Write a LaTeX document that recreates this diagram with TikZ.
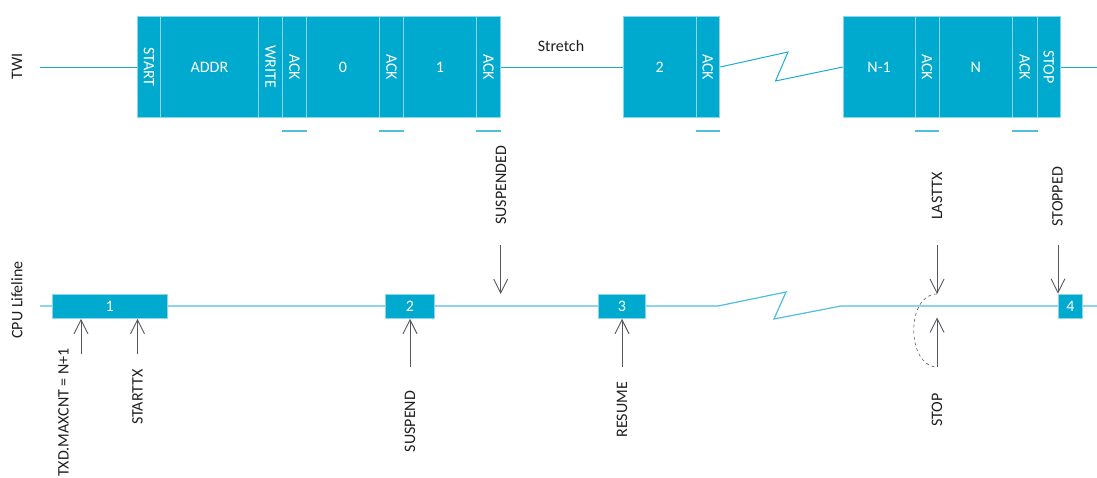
\documentclass[tikz,border=0pt]{standalone}
\usepackage{fontspec}
\setmainfont{Carlito}
\usetikzlibrary{arrows.meta}
\definecolor{twiblue}{RGB}{0,169,206}
\definecolor{twiedge}{RGB}{140,214,234}
\definecolor{lifeblue}{RGB}{80,190,220}
\definecolor{zigblue}{RGB}{30,170,210}
\definecolor{evgray}{RGB}{85,88,94}
\definecolor{lblgray}{RGB}{30,30,30}
\begin{document}
\begin{tikzpicture}[x=1pt, y=-1pt,
    segbox/.style={draw=twiedge, line width=0.8pt, fill=twiblue, text=white, anchor=west,
                   minimum height=101pt, inner sep=0pt, font=\fontsize{16}{19}\selectfont},
    cpubox/.style={draw=twiedge, line width=0.8pt, fill=twiblue, text=white,
                   minimum height=24.3pt, inner sep=0pt, font=\fontsize{16}{19}\selectfont},
    lbl/.style={text=lblgray, inner sep=0pt, font=\fontsize{16}{19}\selectfont},
    vlbl/.style={lbl, rotate=90},
    twiline/.style={draw=zigblue, line width=1pt},
    lifeline/.style={draw=lifeblue, line width=1.2pt},
    ackbar/.style={draw=lifeblue, line width=1.8pt},
    evarrow/.style={draw=evgray, line width=0.9pt, -{Straight Barb[length=14pt,width=14pt]}}]
\useasboundingbox (0,0) rectangle (1097,477);
% TWI bus
\node[vlbl] (twi) at (17,66) {TWI};
\foreach \n/\xa/\xb/\txt/\rot in {1/137/160/START/-90, 2/160/258/ADDR/0, 3/258/282/WRITE/-90,
    4/282/306/ACK/-90, 5/306/379/0/0, 6/379/403/ACK/-90, 7/403/476/1/0, 8/476/500/ACK/-90,
    9/623/695.5/2/0, 10/695.5/719.4/ACK/-90, 11/842.8/914.6/N-1/0, 12/914.6/938.5/ACK/-90,
    13/938.5/1012/N/0, 14/1012/1036.7/ACK/-90, 15/1036.7/1060.2/STOP/-90}{
  \pgfmathsetmacro\w{\xb-\xa}
  \node[segbox, minimum width=\w pt] (s\n) at (\xa,67) {\rotatebox{\rot}{\txt}};
}
\coordinate (twistart) at (40,67);
\coordinate (twiend) at (1097,67);
\coordinate (tz1) at (788,52);
\coordinate (tz2) at (775.5,81);
\draw[twiline] (twistart) -- (s1);
\draw[twiline] (s8) -- (s9);
\draw[twiline] (s10.east) -- (tz1) -- (tz2) -- (s11.west);
\draw[twiline] (s15) -- (twiend);
\node[lbl] (stretch) at (561,46) {Stretch};
\foreach \n in {4,6,8,10,12,14}
  \draw[ackbar] ([yshift=-13pt]s\n.south west) -- ([yshift=-13pt]s\n.south east);
% CPU lifeline
\node[vlbl] (cpu) at (17,300) {CPU Lifeline};
\coordinate (lfstart) at (40,306);
\coordinate (lfend) at (1097,306);
\coordinate (lz0) at (718,306);
\coordinate (lz1) at (786,292);
\coordinate (lz2) at (774,319);
\coordinate (lz3) at (841,306);
\draw[lifeline] (lfstart) -- (lz0) -- (lz1) -- (lz2) -- (lz3) -- (lfend);
\node[cpubox, minimum width=115pt] (c1) at (109.8,306.2) {1};
\node[cpubox, minimum width=48.6pt] (c2) at (410,306.2) {2};
\node[cpubox, minimum width=47.4pt] (c3) at (622,306.2) {3};
\node[cpubox, minimum width=24.4pt] (c4) at (1070.5,306.2) {4};
% tasks
\coordinate (txd) at (81,354);
\coordinate (starttx) at (137.5,354);
\coordinate (suspend) at (410,367);
\coordinate (resume) at (622,367);
\coordinate (stop) at (937,367);
\coordinate (stoptip) at (937,317.5);
\draw[evarrow] (txd) -- (txd |- c1.south);
\draw[evarrow] (starttx) -- (starttx |- c1.south);
\draw[evarrow] (suspend) -- (c2.south);
\draw[evarrow] (resume) -- (c3.south);
\draw[evarrow] (stop) -- (stoptip);
\node[vlbl, anchor=east] (ltxd) at (63.5,348) {TXD.MAXCNT = N+1};
\node[vlbl, anchor=east] (lstarttx) at (137.5,369) {STARTTX};
\node[vlbl, anchor=east] (lsuspend) at (410,390.7) {SUSPEND};
\node[vlbl, anchor=east] (lresume) at (622,381.7) {RESUME};
\node[vlbl, anchor=east] (lstop) at (937,393.3) {STOP};
% events
\coordinate (suspended) at (500.7,245);
\coordinate (suspendedtip) at (500.7,294);
\coordinate (lasttx) at (937,245);
\coordinate (lasttxtip) at (937,294);
\coordinate (stopped) at (1058,245);
\draw[evarrow] (suspended) -- (suspendedtip);
\draw[evarrow] (lasttx) -- (lasttxtip);
\draw[evarrow] (stopped) -- (stopped |- c4.north);
\node[vlbl, anchor=west] (lsuspended) at (501,225) {SUSPENDED};
\node[vlbl, anchor=west] (llasttx) at (937,220) {LASTTX};
\node[vlbl, anchor=west] (lstopped) at (1057.5,226.7) {STOPPED};
\draw[evgray, dashed, line width=0.6pt] (lasttxtip) .. controls (906,294) and (906,366) .. (stop);
\end{tikzpicture}
\end{document}
